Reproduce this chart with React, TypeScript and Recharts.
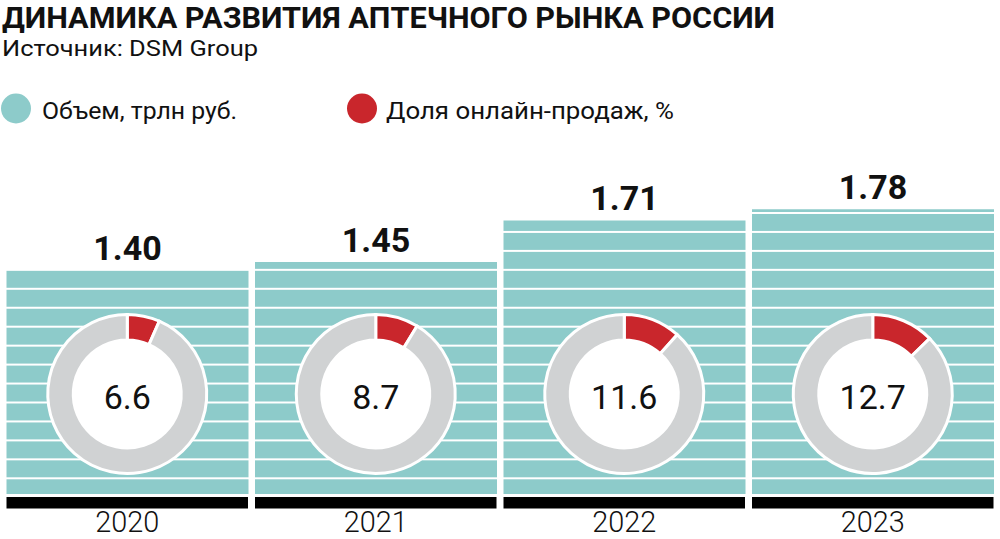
import React from 'react';
import { BarChart, Bar, XAxis, YAxis, LabelList, PieChart, Pie, Cell } from 'recharts';

const years = ['2020', '2021', '2022', '2023'];
const volume = [1.4, 1.45, 1.71, 1.78];
const onlineShare = [6.6, 8.7, 11.6, 12.7];

const TEAL = '#8dcbca';
const RED = '#c9262c';
const GRAY = '#d0d2d3';

const W = 1000;
const H = 539;
const MARGIN = { top: 174, right: 3, bottom: 0, left: 3 };
const AXIS_H = 45;
const GAP = 3.5;
const BAND = (W - MARGIN.left - MARGIN.right) / years.length;
const BAR_W = BAND - GAP * 2;
const DONUT_CY = 394;

const data = years.map((year, i) => ({ year, volume: volume[i] }));

const YearTick = (props: any) => {
  const { x, y, payload } = props;
  return (
    <g>
      <rect x={x - BAR_W / 2} y={y + 3} width={BAR_W} height={11.5} fill="#000" />
      <text
        x={x}
        y={y + 37.5}
        textAnchor="middle"
        fontSize={30}
        fontWeight={300}
        fill="#111"
        textLength={64}
        lengthAdjust="spacingAndGlyphs"
      >
        {payload.value}
      </text>
    </g>
  );
};

export default function App() {
  return (
    <div
      style={{
        position: 'absolute',
        left: 0,
        top: 0,
        width: W,
        height: H,
        background: '#fff',
        fontFamily: 'Roboto, sans-serif',
        overflow: 'hidden',
      }}
    >
      <svg width={W} height={140} style={{ position: 'absolute', left: 0, top: 0 }} fontFamily="Roboto, sans-serif">
        <text x={2} y={27.5} fontSize={30} fontWeight={700} fill="#111" textLength={773} lengthAdjust="spacingAndGlyphs">
          ДИНАМИКА РАЗВИТИЯ АПТЕЧНОГО РЫНКА РОССИИ
        </text>
        <text x={2} y={56} fontSize={22} fill="#111" textLength={256} lengthAdjust="spacingAndGlyphs">
          Источник: DSM Group
        </text>
        <circle cx={16} cy={108.5} r={15} fill={TEAL} />
        <text x={42} y={119} fontSize={23} fill="#111" textLength={195} lengthAdjust="spacingAndGlyphs">
          Объем, трлн руб.
        </text>
        <circle cx={362} cy={108.5} r={15} fill={RED} />
        <text x={386} y={119} fontSize={23} fill="#111" textLength={288} lengthAdjust="spacingAndGlyphs">
          Доля онлайн-продаж, %
        </text>
      </svg>

      <div style={{ position: 'absolute', left: 0, top: 0 }}>
        <BarChart width={W} height={H} data={data} margin={MARGIN} barCategoryGap={GAP}>
          <defs>
            <pattern id="stripes" patternUnits="userSpaceOnUse" x={0} y={477.3} width={W} height={18.95}>
              <rect x={0} y={0} width={W} height={18.95} fill={TEAL} />
              <rect x={0} y={0} width={W} height={2} fill="#fff" />
            </pattern>
          </defs>
          <XAxis
            dataKey="year"
            axisLine={false}
            tickLine={false}
            tickSize={0}
            tickMargin={0}
            height={AXIS_H}
            interval={0}
            tick={<YearTick />}
          />
          <YAxis hide domain={[0, 2]} />
          <Bar dataKey="volume" fill="url(#stripes)" isAnimationActive={false}>
            <LabelList
              dataKey="volume"
              position="top"
              offset={10}
              formatter={(v: any) => Number(v).toFixed(2)}
              fontSize={34}
              fontWeight={700}
              fill="#111"
            />
          </Bar>
        </BarChart>
      </div>

      <div style={{ position: 'absolute', left: 0, top: 0, pointerEvents: 'none' }}>
        <PieChart width={W} height={H} margin={{ top: 0, right: 0, bottom: 0, left: 0 }}>
          {onlineShare.map((share, i) => {
            const cx = MARGIN.left + BAND * (i + 0.5);
            return (
              <React.Fragment key={years[i]}>
                <Pie
                  data={[{ name: 'online', value: share }, { name: 'rest', value: 100 - share }]}
                  dataKey="value"
                  cx={cx}
                  cy={DONUT_CY}
                  innerRadius={54}
                  outerRadius={79.5}
                  startAngle={90}
                  endAngle={-270}
                  stroke="#fff"
                  strokeWidth={3}
                  isAnimationActive={false}
                >
                  <Cell fill={RED} />
                  <Cell fill={GRAY} />
                </Pie>
                <Pie
                  data={[{ name: 'center', value: share }]}
                  dataKey="value"
                  cx={cx}
                  cy={DONUT_CY}
                  innerRadius={0}
                  outerRadius={54}
                  fill="#fff"
                  stroke="none"
                  isAnimationActive={false}
                  labelLine={false}
                  label={(p: any) => (
                    <text
                      x={p.cx}
                      y={p.cy + 15}
                      textAnchor="middle"
                      fontSize={34}
                      fontWeight={400}
                      fill="#111"
                      fontFamily="Roboto, sans-serif"
                    >
                      {share.toFixed(1)}
                    </text>
                  )}
                />
              </React.Fragment>
            );
          })}
        </PieChart>
      </div>
    </div>
  );
}
